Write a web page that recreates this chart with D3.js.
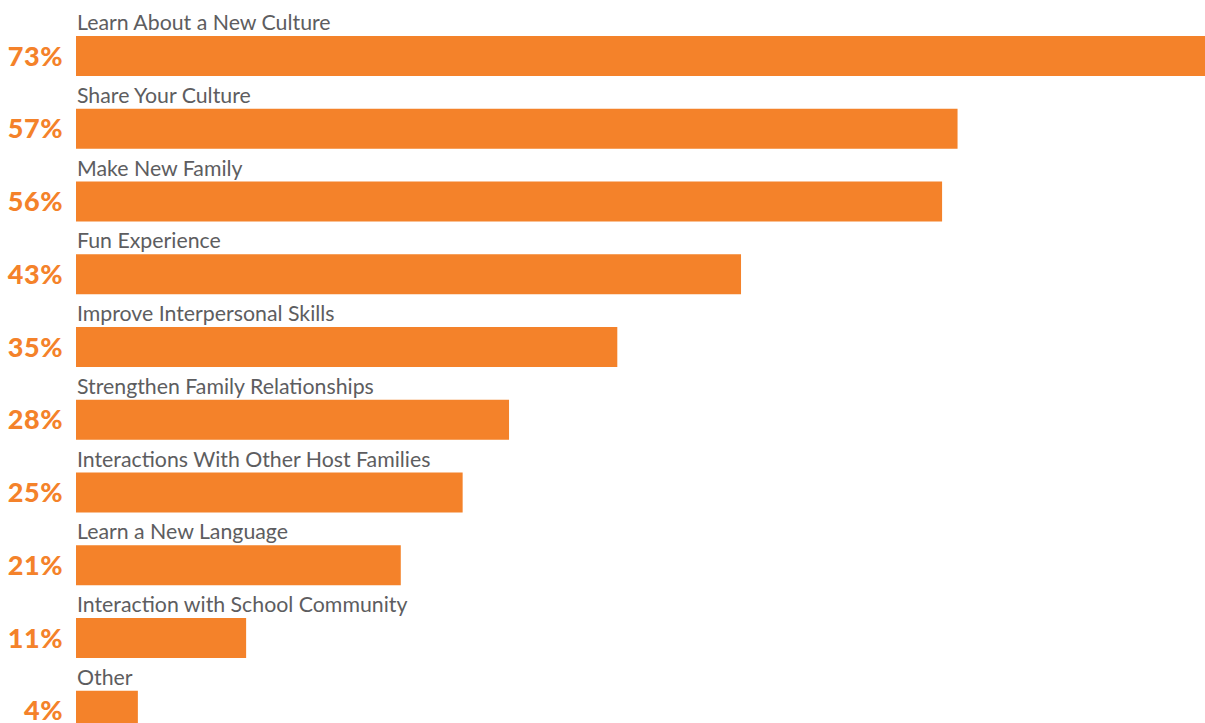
<!DOCTYPE html>
<html>
<head>
<meta charset="utf-8">
<script src="https://cdn.jsdelivr.net/npm/d3@7"></script>
<style>
  html, body { margin: 0; padding: 0; background: #ffffff; }
  svg { display: block; }
</style>
</head>
<body>
<svg id="chart" width="1205" height="723"></svg>
<script>
// Reasons for hosting, share of respondents (%)
const categories = [
  "Learn About a New Culture",
  "Share Your Culture",
  "Make New Family",
  "Fun Experience",
  "Improve Interpersonal Skills",
  "Strengthen Family Relationships",
  "Interactions With Other Host Families",
  "Learn a New Language",
  "Interaction with School Community",
  "Other"
];
const values = [73, 57, 56, 43, 35, 28, 25, 21, 11, 4];
const valueLabels = values.map(v => v + "%");

const left = 76, right = 1205;
const barTop = 36, step = 72.75, barH = 40;
const orange = "#F4822A";

const svg = d3.select("#chart");

const x = d3.scaleLinear().domain([0, d3.max(values)]).range([left, right]);
const pad = (step - barH) / step;
const y = d3.scaleBand()
  .domain(categories)
  .range([barTop, barTop + (categories.length - pad) * step])
  .paddingInner(pad)
  .paddingOuter(0);

const rows = svg.selectAll("g.row")
  .data(categories.map((c, i) => ({ c, v: values[i], label: valueLabels[i] })))
  .join("g")
  .attr("class", "row");

rows.append("rect")
  .attr("x", x(0))
  .attr("y", d => y(d.c))
  .attr("width", d => x(d.v) - x(0))
  .attr("height", y.bandwidth())
  .attr("fill", orange);

rows.append("text")
  .attr("x", x(0) + 1)
  .attr("y", d => y(d.c) - 6)
  .attr("font-family", "Lato, sans-serif")
  .attr("font-weight", 400)
  .attr("font-size", 21.3)
  .attr("fill", "#5d5d60")
  .text(d => d.c);

rows.append("text")
  .attr("x", 63)
  .attr("y", d => y(d.c) + y.bandwidth() / 2)
  .attr("dy", "0.36em")
  .attr("text-anchor", "end")
  .attr("font-family", "Lato, sans-serif")
  .attr("font-weight", 900)
  .attr("font-size", 27)
  .attr("letter-spacing", 0.5)
  .attr("fill", orange)
  .text(d => d.label);
</script>
</body>
</html>
